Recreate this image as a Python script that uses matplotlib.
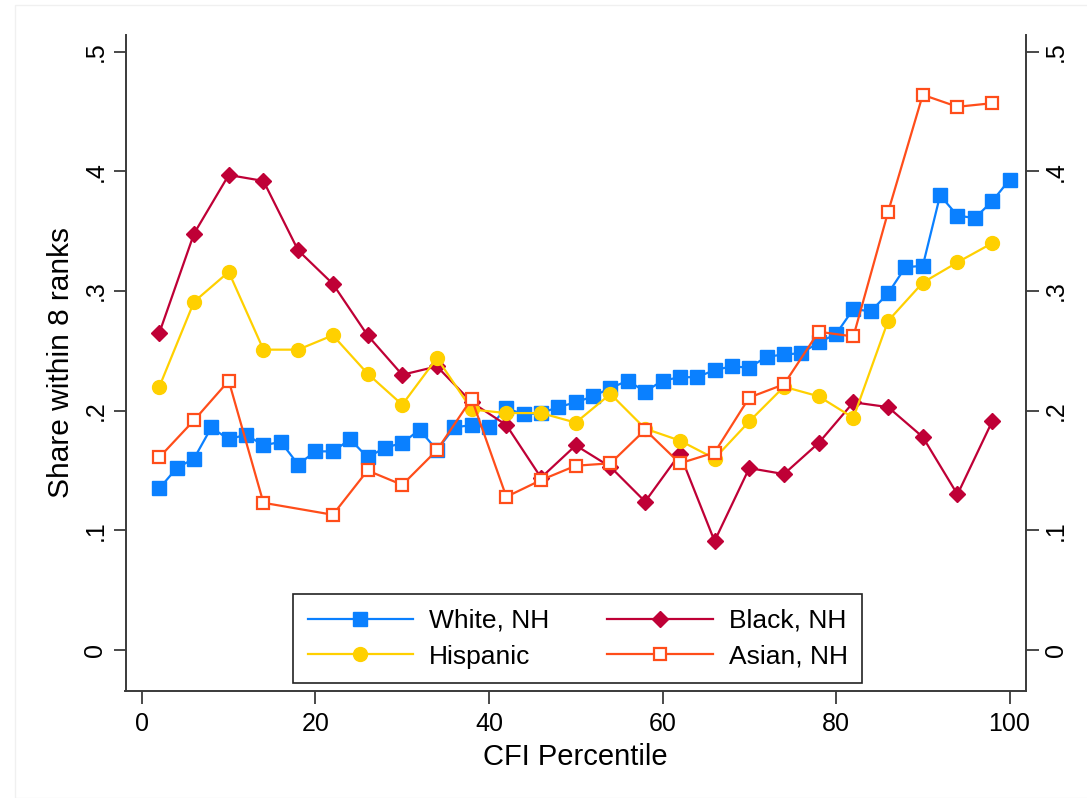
import matplotlib.pyplot as plt
from matplotlib.patches import Rectangle
from matplotlib.ticker import FixedLocator, FixedFormatter

# share of each group within 8 ranks, by CFI percentile
pct_white = [2, 4, 6, 8, 10, 12, 14, 16, 18, 20, 22, 24, 26, 28, 30, 32, 34,
             36, 38, 40, 42, 44, 46, 48, 50, 52, 54, 56, 58, 60, 62, 64, 66,
             68, 70, 72, 74, 76, 78, 80, 82, 84, 86, 88, 90, 92, 94, 96, 98, 100]
white = [0.135, 0.152, 0.160, 0.186, 0.176, 0.180, 0.171, 0.174, 0.155, 0.166,
         0.166, 0.176, 0.161, 0.169, 0.173, 0.184, 0.167, 0.186, 0.188, 0.186,
         0.202, 0.197, 0.198, 0.203, 0.207, 0.212, 0.219, 0.225, 0.216, 0.225,
         0.228, 0.228, 0.234, 0.237, 0.236, 0.245, 0.247, 0.248, 0.257, 0.264,
         0.285, 0.283, 0.298, 0.320, 0.321, 0.380, 0.363, 0.361, 0.375, 0.393]

pct_group = [2, 6, 10, 14, 18, 22, 26, 30, 34, 38, 42, 46, 50, 54, 58, 62,
             66, 70, 74, 78, 82, 86, 90, 94, 98]
black = [0.265, 0.348, 0.397, 0.392, 0.334, 0.306, 0.263, 0.230, 0.237, 0.207,
         0.188, 0.144, 0.171, 0.153, 0.124, 0.164, 0.091, 0.152, 0.147, 0.173,
         0.207, 0.203, 0.178, 0.130, 0.191]
hispanic = [0.220, 0.291, 0.316, 0.251, 0.251, 0.263, 0.231, 0.205, 0.244, 0.201,
            0.198, 0.198, 0.190, 0.214, 0.185, 0.175, 0.160, 0.191, 0.220, 0.212,
            0.194, 0.275, 0.307, 0.324, 0.340]

pct_asian = [2, 6, 10, 14, 22, 26, 30, 34, 38, 42, 46, 50, 54, 58, 62, 66, 70,
             74, 78, 82, 86, 90, 94, 98]
asian = [0.161, 0.192, 0.225, 0.123, 0.113, 0.150, 0.138, 0.167, 0.210, 0.128,
         0.142, 0.154, 0.156, 0.184, 0.156, 0.165, 0.211, 0.222, 0.266, 0.262,
         0.366, 0.464, 0.454, 0.457]

y_ticks = [0, 0.1, 0.2, 0.3, 0.4, 0.5]
y_labels = ['0', '.1', '.2', '.3', '.4', '.5']
x_ticks = [0, 20, 40, 60, 80, 100]
x_labels = ['0', '20', '40', '60', '80', '100']

plt.rcParams['font.family'] = ['Liberation Sans', 'DejaVu Sans']

fig = plt.figure(figsize=(10.87, 7.98), dpi=100)
fig.patches.append(Rectangle((15 / 1087, 0), 1, 1 - 5 / 798,
                             transform=fig.transFigure, fill=False,
                             edgecolor='#f0f0f0', linewidth=1.0))
ax = fig.add_axes([125.5 / 1087, (798 - 691) / 798, 900.5 / 1087, 656 / 798])

lw = 1.6
h_white, = ax.plot(pct_white, white, color='#0a80ff', lw=lw, marker='s',
                   ms=10, label='White, NH')
h_black, = ax.plot(pct_group, black, color='#bf0036', lw=lw, marker='D',
                   ms=8.5, label='Black, NH')
h_hisp, = ax.plot(pct_group, hispanic, color='#ffd000', lw=lw, marker='o',
                  ms=10, label='Hispanic')
h_asian, = ax.plot(pct_asian, asian, color='#ff4d1a', lw=lw, marker='s',
                   ms=8.5, mfc='white', mew=1.6, label='Asian, NH')

ax.set_xlim(-1.9, 101.9)
ax.set_ylim(-0.0343, 0.514)

ax.spines['top'].set_visible(False)
for side in ['left', 'right', 'bottom']:
    ax.spines[side].set_color('#3a3a3a')
    ax.spines[side].set_linewidth(1.4)

ax.xaxis.set_major_locator(FixedLocator(x_ticks))
ax.xaxis.set_major_formatter(FixedFormatter(x_labels))
ax.yaxis.set_major_locator(FixedLocator(y_ticks))
ax.yaxis.set_major_formatter(FixedFormatter(y_labels))

ax.tick_params(axis='both', direction='out', length=9, width=1.3,
               color='#3a3a3a', labelsize=18, pad=6)
ax.tick_params(axis='y', right=True, labelright=True, labelrotation=90,
               pad=4)
for lab in ax.get_yticklabels():
    lab.set_verticalalignment('center')

ax.set_xlabel('CFI Percentile', fontsize=21, labelpad=5)
ax.set_ylabel('Share within 8 ranks', fontsize=21.5, labelpad=6)

leg = ax.legend([h_white, h_hisp, h_black, h_asian],
                ['White, NH', 'Hispanic', 'Black, NH', 'Asian, NH'],
                ncol=2, loc='lower center', bbox_to_anchor=(0.502, 0.012),
                borderaxespad=0, fontsize=19, frameon=True, fancybox=False,
                framealpha=1, edgecolor='#222222', handlelength=4.0,
                columnspacing=2.2, handletextpad=0.6, labelspacing=0.45,
                borderpad=0.55)
leg.get_frame().set_linewidth(1.2)

fig.savefig('out.png', dpi=100)
